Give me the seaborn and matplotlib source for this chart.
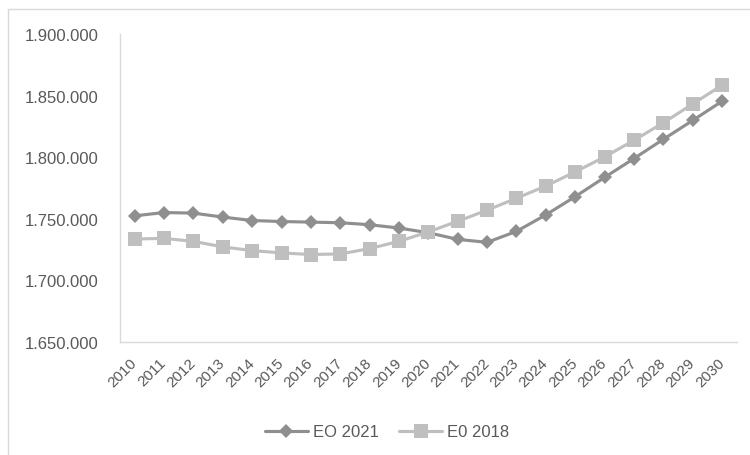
import matplotlib
matplotlib.use("Agg")
import matplotlib.pyplot as plt
import matplotlib.ticker as mticker
from matplotlib.patches import Rectangle
from matplotlib.lines import Line2D
import seaborn as sns
import pandas as pd

years = list(range(2010, 2031))
eo_2021 = [1752400, 1755100, 1754600, 1751400, 1748600, 1747800, 1747300,
           1746800, 1745200, 1742500, 1738700, 1733300, 1730900, 1739800,
           1753200, 1768000, 1783600, 1798900, 1814500, 1829800, 1845400]
e0_2018 = [1733600, 1734100, 1731700, 1727200, 1724200, 1722300, 1721000,
           1721500, 1725800, 1731700, 1739400, 1748000, 1757000, 1766700,
           1776600, 1788100, 1800200, 1813700, 1827900, 1843200, 1858400]
series_names = ["EO 2021", "E0 2018"]
y_ticks = [1650000, 1700000, 1750000, 1800000, 1850000, 1900000]

sns.set_theme(style="white")
plt.rcParams["font.family"] = ["Liberation Sans", "DejaVu Sans"]

df = pd.DataFrame({
    "year": years * 2,
    "value": eo_2021 + e0_2018,
    "series": [series_names[0]] * len(years) + [series_names[1]] * len(years),
})

fig = plt.figure(figsize=(7.5, 4.56), dpi=100)
ax = fig.add_axes([120 / 750, 1 - 343 / 456, (736.7 - 120) / 750, (343 - 35) / 456])

sns.lineplot(data=df, x="year", y="value", hue="series", style="series",
             palette={series_names[0]: "#8f8f8f", series_names[1]: "#bfbfbf"},
             markers={series_names[0]: "D", series_names[1]: "s"},
             dashes=False, linewidth=2.25, ax=ax, legend=False,
             markeredgewidth=0)
for line, ms in zip(ax.lines, [7.2, 9.4]):
    line.set_markersize(ms)

ax.set_xlim(2009.5, 2030.5)
ax.set_ylim(1650000, 1900000)
ax.set_xticks(years)
ax.set_xticklabels([str(y) for y in years], rotation=45, ha="right", va="center",
                   rotation_mode="anchor", color="#595959", fontsize=11)
ax.set_yticks(y_ticks)
ax.yaxis.set_major_formatter(mticker.FuncFormatter(lambda v, p: f"{int(v):,}".replace(",", ".")))
ax.tick_params(axis="y", labelsize=12, labelcolor="#595959", length=0, pad=15.5)
ax.tick_params(axis="x", length=0, pad=13)
ax.set_xlabel("")
ax.set_ylabel("")
for s in ["top", "right"]:
    ax.spines[s].set_visible(False)
for s in ["left", "bottom"]:
    ax.spines[s].set_color("#d9d9d9")
    ax.spines[s].set_linewidth(1.0)
ax.grid(False)

handles = [Line2D([], [], color="#8f8f8f", lw=2.25, marker="D", ms=7.2, mew=0),
           Line2D([], [], color="#bfbfbf", lw=2.25, marker="s", ms=9.4, mew=0)]
fig.legend(handles, series_names, loc="center", bbox_to_anchor=(387 / 750, 23 / 456),
           ncol=2, frameon=False, fontsize=12, handlelength=2.6, columnspacing=1.2,
           handletextpad=0.3, labelcolor="#595959")

fig.patches.append(Rectangle((8 / 750, -0.05), 1.2, 1 - 10 / 456 + 0.05,
                             transform=fig.transFigure, fill=False,
                             edgecolor="#d9d9d9", linewidth=1.0))

fig.savefig("out.png", dpi=100, facecolor="white")
